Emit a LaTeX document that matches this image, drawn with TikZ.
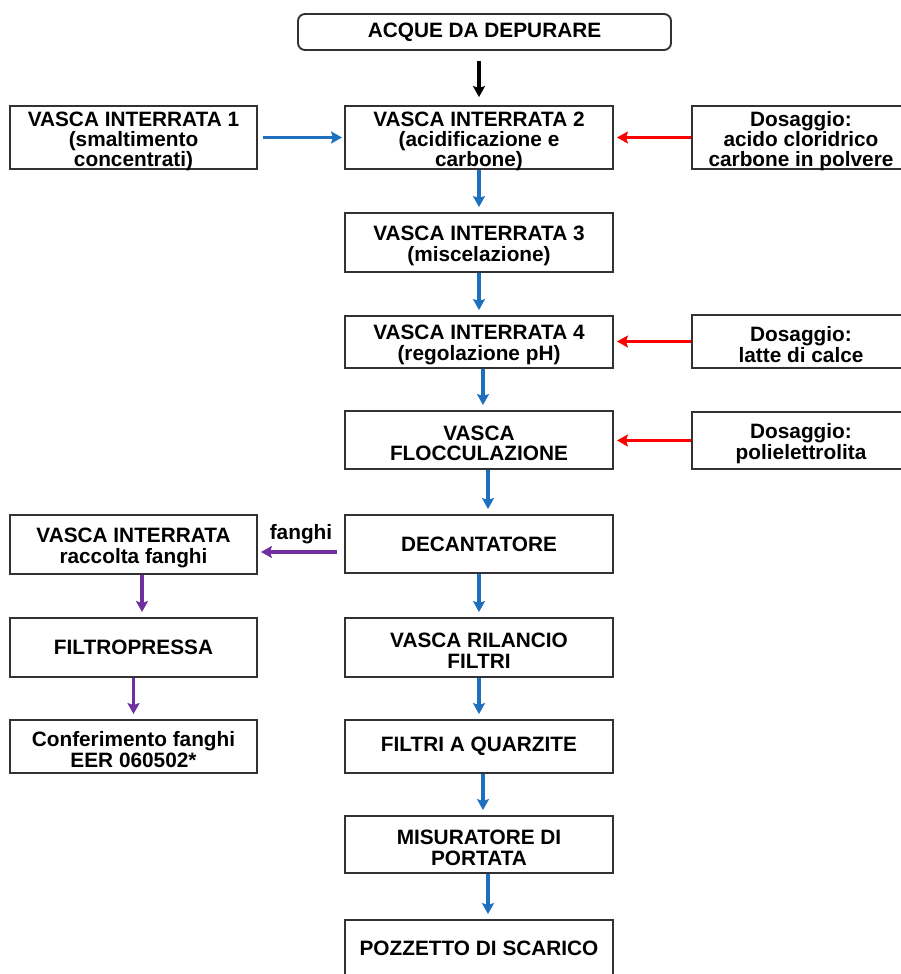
\documentclass[tikz,border=0pt]{standalone}
\usepackage{fontspec}
\setmainfont{Liberation Sans}
\usepackage{tikz}
\usetikzlibrary{arrows.meta}
\definecolor{flowblue}{RGB}{31,111,191}
\definecolor{flowred}{RGB}{255,0,0}
\definecolor{flowpurple}{RGB}{112,48,160}
\definecolor{edgegray}{RGB}{50,50,50}
\newcommand{\topstrut}{\rule{0pt}{21pt}}
\newcommand{\tightstrut}{\rule{0pt}{17pt}}
\tikzset{
        boxnode/.style = {align=center, inner sep=0pt, text centered,
            draw=edgegray, line width=1.9pt, fill=white,
            font=\fontsize{20.8}{20.8}\selectfont\bfseries},
        proc_n/.style = {boxnode, rectangle, minimum width=268pt},
        proc_s/.style = {boxnode, rectangle, minimum width=247pt},
        proc_d/.style = {boxnode, rectangle, minimum width=218pt},
        proc_r/.style = {boxnode, rectangle, rounded corners=7pt,
            minimum width=373pt, minimum height=36pt},
        three_l/.style = {font=\fontsize{20.8}{20}\selectfont\bfseries,
            text depth=0pt},
        flow_k/.style = {->, draw=black, line width=3.6pt},
        flow_b/.style = {->, draw=flowblue, line width=3.4pt, shorten >=5pt},
        flow_r/.style = {->, draw=flowred, line width=3pt},
        flow_p/.style = {->, draw=flowpurple, line width=3.4pt}
    }
\begin{document}
\begin{tikzpicture}[x=1pt, y=-1pt, >={Stealth[length=11pt, width=12pt, inset=2pt]}]
    \useasboundingbox (0,0) rectangle (900,974);
    % main line
    \node [proc_r] (acque) at (484.5,32) {ACQUE DA DEPURARE};
    \node [proc_n, three_l, minimum height=63pt] (vi2) at (479,137.5)
        {\tightstrut VASCA INTERRATA 2\\(acidificazione e\\carbone)};
    \node [proc_n, minimum height=59pt] (vi3) at (479,242.5)
        {\topstrut VASCA INTERRATA 3\\(miscelazione)};
    \node [proc_n, minimum height=52pt] (vi4) at (479,342)
        {\topstrut VASCA INTERRATA 4\\(regolazione pH)};
    \node [proc_n, minimum height=58pt] (flocc) at (479,440)
        {\topstrut VASCA\\FLOCCULAZIONE};
    \node [proc_n, minimum height=58pt] (dec) at (479,544) {DECANTATORE};
    \node [proc_n, minimum height=59pt] (ril) at (479,647.5)
        {\topstrut VASCA RILANCIO\\FILTRI};
    \node [proc_n, minimum height=53pt] (quarz) at (479,746.5)
        {FILTRI A QUARZITE};
    \node [proc_n, minimum height=57pt] (misur) at (479,844.5)
        {\topstrut MISURATORE DI\\PORTATA};
    \node [proc_n, minimum height=57pt] (pozz) at (479,948.5)
        {POZZETTO DI SCARICO};
    % left side
    \node [proc_s, three_l, minimum height=63pt] (vi1) at (133.5,137.5)
        {\tightstrut VASCA INTERRATA 1\\(smaltimento\\concentrati)};
    \node [proc_s, minimum height=59pt] (racc) at (133.5,544.5)
        {\topstrut VASCA INTERRATA\\raccolta fanghi};
    \node [proc_s, minimum height=59pt] (filtrop) at (133.5,647.5)
        {FILTROPRESSA};
    \node [proc_s, minimum height=53pt] (conf) at (133.5,746.5)
        {\topstrut Conferimento fanghi\\EER 060502*};
    % dosing
    \node [proc_d, three_l, minimum height=63pt] (dos1) at (801,137.5)
        {\tightstrut Dosaggio:\\acido cloridrico\\carbone in polvere};
    \node [proc_d, minimum height=53pt] (dos2) at (801,341.5)
        {\topstrut Dosaggio:\\latte di calce};
    \node [proc_d, minimum height=57pt] (dos3) at (801,440.5)
        {\topstrut Dosaggio:\\polielettrolita};

    \draw [flow_k, shorten <=10pt, shorten >=8pt]
        (acque.south -| vi2.north) -- (vi2.north);
    \draw [flow_b] (vi2) -- (vi3);
    \draw [flow_b] (vi3) -- (vi4);
    \draw [flow_b] ([xshift=4pt]vi4.south) -- ([xshift=4pt]flocc.north);
    \draw [flow_b] ([xshift=9pt]flocc.south) -- ([xshift=9pt]dec.north);
    \draw [flow_b] (dec) -- (ril);
    \draw [flow_b] (ril) -- (quarz);
    \draw [flow_b] ([xshift=4pt]quarz.south) -- ([xshift=4pt]misur.north);
    \draw [flow_b] ([xshift=9pt]misur.south) -- ([xshift=9pt]pozz.north);
    \draw [flow_b, shorten <=5pt, shorten >=2pt] (vi1) -- (vi2);
    \draw [flow_r, shorten >=3pt] (dos1) -- (vi2);
    \draw [flow_r, shorten >=3pt] (dos2.west) -- (dos2.west -| vi4.east);
    \draw [flow_r, shorten >=3pt] (dos3.west) -- (dos3.west -| flocc.east);
    \draw [flow_p, shorten <=7pt, shorten >=3pt]
        (dec.west |- 0,552) -- node[above=3pt, font=\fontsize{20.8}{20.8}\selectfont\bfseries] (lblfanghi) {fanghi}
        (racc.east |- 0,552);
    \draw [flow_p, shorten >=5pt] ([xshift=8.5pt]racc.south) -- ([xshift=8.5pt]filtrop.north);
    \draw [flow_p, shorten >=5pt] (filtrop) -- (conf);
\end{tikzpicture}
\end{document}
